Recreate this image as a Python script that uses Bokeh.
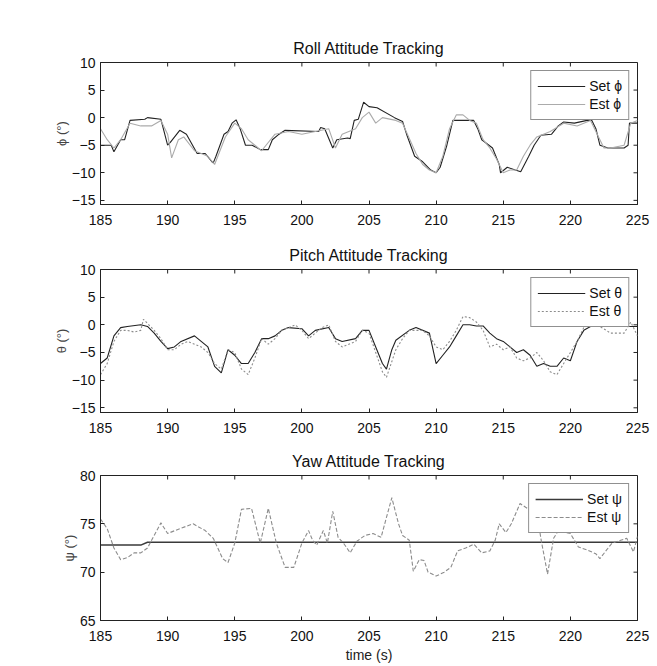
from bokeh.plotting import figure
from bokeh.layouts import column
from bokeh.models import Range1d, FixedTicker, Legend, LegendItem
from bokeh.embed import file_html
from bokeh.resources import INLINE

# ---------------- data ----------------
x_ticks = [185, 190, 195, 200, 205, 210, 215, 220, 225]
roll_ticks = [-15, -10, -5, 0, 5, 10]
pitch_ticks = [-15, -10, -5, 0, 5, 10]
yaw_ticks = [65, 70, 75, 80]

t_roll_set = [185, 185.8, 186.0, 186.5, 186.8, 187.2, 188.3, 188.5, 189.5, 190.0, 190.2, 190.9, 191.4,
              192.2, 192.8, 193.3, 193.4, 193.6, 194.2, 194.5, 194.8, 195.1, 195.4, 195.8, 196.3, 196.9,
              197.5, 197.8, 198.3, 198.75, 201.25, 201.4, 201.7, 202.3, 202.6, 203.4, 203.6, 203.9, 204.2,
              204.6, 205.0, 205.6, 206.9, 207.5, 207.8, 208.4, 209.0, 209.6, 210.0, 210.3, 210.8, 211.25,
              212.3, 212.8, 213.1, 213.4, 214.2, 214.7, 214.8, 215.3, 215.9, 216.3, 216.9, 217.3, 217.8,
              218.6, 219.1, 219.5, 220.3, 221.25, 221.6, 221.9, 222.2, 222.8, 224.0, 224.3, 224.4, 225]
roll_set = [-5, -5, -6.2, -4, -4, -0.5, -0.3, 0, -0.3, -5, -4.5, -2.3, -3,
            -6.5, -6.5, -8, -8.2, -7, -3, -2.5, -1, -0.4, -2, -5, -5, -5.8,
            -5.8, -4, -3, -2.3, -2.5, -1.8, -2, -5.5, -4, -3.7, -3.8, -0.5, -0.3,
            2.8, 2, 1.8, 0, -0.7, -3, -7, -8, -9.5, -10, -9, -5, -0.5,
            -0.5, -0.5, -2, -4, -5.5, -8.5, -10, -9, -9.5, -9.8, -7, -5, -3.2,
            -3, -1.5, -0.8, -1, -0.5, -0.5, -2, -5, -5.5, -5.5, -5, -1, -1]

t_roll_est = [185, 185.5, 186, 186.5, 187.2, 188, 188.8, 189.5, 190, 190.3, 190.8, 191.2, 192, 193,
              193.5, 194.3, 195, 195.5, 196, 196.5, 197, 198, 199, 200, 201, 202, 202.5, 203, 204,
              204.5, 205, 205.5, 206, 207, 207.5, 208.5, 209, 209.5, 210, 210.5, 211, 211.5, 212,
              212.5, 213, 213.5, 214, 214.5, 215, 215.5, 216, 216.5, 217, 217.5, 218.5, 219.5, 220.5,
              221.5, 222, 222.5, 223, 224, 224.5, 225]
roll_est = [-2, -4, -5.5, -4, -1, -1.5, -1.5, -0.5, -3, -7.3, -4, -3.5, -6, -7,
            -8.5, -3.5, -1, -2, -4, -5, -6, -3, -2.5, -3, -2.5, -2, -5.5, -3, -2,
            0, 1, -1, 0, -0.5, -1, -6.5, -8.5, -9.5, -10, -7, -2, 0.5, 0.5,
            -0.5, -1, -4, -5.5, -7.5, -10, -9.5, -9.5, -7, -5, -3.5, -2.5, -1, -1.5,
            -0.5, -3, -5.5, -5.5, -5, -1, -0.5]

t_pitch_set = [185, 185.5, 186, 186.5, 187, 188, 188.5, 189, 189.5, 190, 190.5, 191, 192, 192.5, 193,
               193.5, 194, 194.5, 195, 195.5, 196, 196.5, 197, 197.5, 198, 198.5, 199, 200, 200.5, 201,
               202, 202.5, 203, 204, 204.5, 205, 205.5, 206, 206.3, 206.7, 207, 208, 208.5, 209.5, 210,
               210.5, 211, 211.5, 212, 212.5, 213, 213.5, 214, 214.5, 215, 215.5, 216, 216.5, 217, 217.5,
               218, 218.5, 219, 219.5, 220, 220.5, 221, 221.5, 222, 223, 224, 225]
pitch_set = [-7, -6, -2, -0.5, -0.3, 0, -0.3, -1.5, -3, -4.3, -4, -3, -2, -3, -4,
             -7.5, -8.7, -4.5, -5.5, -7, -7, -5, -2.5, -2.5, -2, -1, -0.5, -0.7, -2, -1,
             -0.5, -2.5, -3, -2.5, -1, -1, -4, -7, -8, -4.5, -2.8, -1, -0.5, -1.5, -7,
             -5.5, -4, -2, 0, 0, -0.2, -0.2, -1.5, -2.5, -3, -4, -5, -4.5, -5.5, -7.5,
             -7, -7.5, -7.5, -6, -6.5, -3, -1, -0.3, -0.3, -0.3, -0.3, -0.3]

t_pitch_est = [185, 185.5, 186, 186.5, 187, 187.5, 188, 188.2, 189, 189.5, 190, 190.5, 191, 191.5, 192,
               192.5, 193, 193.5, 194, 194.5, 195, 195.5, 196, 196.5, 197, 197.5, 198, 198.5, 199, 199.5,
               200, 200.5, 201, 201.5, 202, 202.5, 203, 204, 204.5, 205, 205.5, 206, 206.3, 207, 207.5,
               208, 209, 209.5, 210, 210.5, 211, 211.5, 212, 212.5, 213, 213.5, 214, 214.5, 215, 215.5,
               216, 216.5, 217, 217.5, 218, 218.5, 219, 219.5, 220, 220.5, 221, 221.5, 222, 223, 224,
               224.5, 225]
pitch_est = [-9, -7, -3, -1, -1, -1.3, -1, 1, -1, -2.5, -4.5, -4.5, -3.5, -3, -3.5,
             -4, -5, -7, -8, -4.5, -5, -8, -9, -6, -2.5, -3.5, -2.5, -1, -0.5, 0,
             -1, -2.5, -1.5, -0.5, 0, -3, -4, -3, -1, -1.5, -5, -8.5, -9.5, -4.5, -2.5,
             -1, -1, -2, -4, -4.5, -3, -1, 1.5, 1.3, 0.5, -1, -4, -3.5, -4.5, -4,
             -6, -6.5, -6, -5, -6.5, -8.5, -9, -7, -5, -3, -0.5, 0, 0, -1.5, -1.5,
             0.5, -2]

t_yaw_set = [185, 188.0, 188.5, 225]
yaw_set = [72.8, 72.8, 73.1, 73.1]

t_yaw_est = [185, 185.5, 186, 186.5, 187, 187.5, 188, 188.5, 189.5, 190, 190.9, 191.9, 192.8, 193.4,
             194.1, 194.5, 195, 195.5, 196.25, 196.9, 197.5, 198.1, 198.75, 199.4, 200, 200.5, 200.8,
             201.1, 201.6, 201.9, 202.3, 202.7, 203.1, 203.6, 204.1, 204.7, 205.3, 205.9, 206.25,
             206.7, 207.2, 207.5, 208, 208.3, 208.75, 209.1, 209.4, 210, 210.6, 211.1, 211.6, 212.2,
             212.8, 213.4, 214, 214.4, 214.7, 215.2, 215.6, 216.25, 216.9, 217.5, 217.8, 218.3,
             218.75, 219.1, 220, 220.6, 221.25, 221.9, 222.2, 222.7, 223.1, 223.75, 224.2, 224.7, 225]
yaw_est = [75.5, 74.5, 72.5, 71.3, 71.5, 72, 72, 72.5, 75.1, 74, 74.5, 75, 74.3, 73.5,
           71.4, 71, 73, 76.5, 76.6, 73, 76.6, 73, 70.5, 70.5, 73, 74.3, 73.3,
           72.8, 74.3, 73, 76.3, 73.6, 73, 72, 73.2, 73.8, 74, 73.6, 75.4,
           77.7, 75, 73.8, 73.3, 70.1, 71.3, 71.2, 70, 69.6, 70, 70.5, 72.2, 72.5,
           72.9, 72, 72.2, 73.3, 75, 74.1, 75, 77.1, 76.5, 76.3, 73.5, 69.8,
           73.5, 74.3, 74, 72.6, 72.3, 71.9, 71.4, 72.3, 73, 73.3, 73.5, 72.1, 73.7]

FONT = "Liberation Sans"
FRAME_W = 537
TICK = 4


def make_fig(title, ylabel, yr, yticks, frame_h, top, bottom, xlabel=None):
    p = figure(frame_width=FRAME_W, frame_height=frame_h,
               x_range=Range1d(185, 225), y_range=Range1d(*yr),
               output_backend="svg", toolbar_location=None,
               min_border_left=100, min_border_right=16,
               min_border_top=top, min_border_bottom=bottom,
               title=title)
    p.title.text_font = FONT
    p.title.text_font_size = "16px"
    p.title.text_font_style = "normal"
    p.title.align = "center"
    p.title.text_color = "#111111"
    p.title.standoff = 11
    p.grid.visible = False
    p.outline_line_color = "#222222"
    p.outline_line_width = 1
    p.xaxis.ticker = FixedTicker(ticks=x_ticks)
    p.yaxis.ticker = FixedTicker(ticks=yticks)
    for ax in (p.xaxis[0], p.yaxis[0]):
        ax.major_tick_in = TICK
        ax.major_tick_out = 0
        ax.minor_tick_line_color = None
        ax.axis_line_color = "#222222"
        ax.major_tick_line_color = "#222222"
        ax.major_label_text_font = FONT
        ax.major_label_text_font_size = "14px"
        ax.major_label_text_color = "#111111"
    p.xaxis.major_label_standoff = 10
    p.yaxis.major_label_standoff = 5
    p.yaxis.axis_label = ylabel
    p.yaxis.axis_label_text_font = FONT
    p.yaxis.axis_label_text_font_size = "13px"
    p.yaxis.axis_label_text_font_style = "normal"
    p.yaxis.axis_label_text_color = "#444444"
    p.yaxis.axis_label_standoff = 0
    if xlabel:
        p.xaxis.axis_label = xlabel
        p.xaxis.axis_label_text_font = FONT
        p.xaxis.axis_label_text_font_size = "14px"
        p.xaxis.axis_label_text_font_style = "normal"
        p.xaxis.axis_label_text_color = "#222222"
        p.xaxis.axis_label_standoff = 3
    # mirrored tick marks on top and right edges of the box (fractional ranges)
    p.extra_x_ranges = {"fx": Range1d(0, 1)}
    p.extra_y_ranges = {"fy": Range1d(0, 1)}
    n, m = len(x_ticks), len(yticks)
    p.segment(x0=x_ticks, x1=x_ticks, y0=[1] * n, y1=[1 - TICK / frame_h] * n,
              y_range_name="fy", line_color="#222222", line_width=1)
    p.segment(x0=[1] * m, x1=[1 - TICK / FRAME_W] * m, y0=yticks, y1=yticks,
              x_range_name="fx", line_color="#222222", line_width=1)
    return p


def add_legend(p, items):
    leg = Legend(items=items, location="top_right", margin=8, padding=6, spacing=0,
                 label_height=18, glyph_height=18, glyph_width=48, label_standoff=4,
                 label_text_font=FONT, label_text_font_size="14px", label_text_color="#111111",
                 border_line_color="#222222", border_line_width=1,
                 background_fill_color="white", background_fill_alpha=1)
    p.add_layout(leg)


# Roll
p1 = make_fig("Roll Attitude Tracking", "ϕ (°)", (-15.75, 10), roll_ticks, 142, 62, 31)
r1a = p1.line(t_roll_set, roll_set, line_color="#222222", line_width=1.1)
r1b = p1.line(t_roll_est, roll_est, line_color="#ababab", line_width=1.1)
add_legend(p1, [LegendItem(label="Set ϕ", renderers=[r1a]), LegendItem(label="Est ϕ", renderers=[r1b])])

# Pitch
p2 = make_fig("Pitch Attitude Tracking", "θ (°)", (-15.85, 10), pitch_ticks, 143, 34, 28)
r2a = p2.line(t_pitch_set, pitch_set, line_color="#222222", line_width=1.1)
r2b = p2.line(t_pitch_est, pitch_est, line_color="#8c8c8c", line_width=1.1, line_dash="2 2")
add_legend(p2, [LegendItem(label="Set θ", renderers=[r2a]), LegendItem(label="Est θ", renderers=[r2b])])

# Yaw
p3 = make_fig("Yaw Attitude Tracking", "ψ (°)", (65, 80), yaw_ticks, 145, 35, 42, xlabel="time (s)")
r3a = p3.line(t_yaw_set, yaw_set, line_color="#3a3a3a", line_width=1.5)
r3b = p3.line(t_yaw_est, yaw_est, line_color="#8c8c8c", line_width=1.1, line_dash="4 2")
add_legend(p3, [LegendItem(label="Set ψ", renderers=[r3a]), LegendItem(label="Est ψ", renderers=[r3b])])

layout = column(p1, p2, p3, spacing=0)
open("out.html", "w").write(file_html(layout, INLINE))
